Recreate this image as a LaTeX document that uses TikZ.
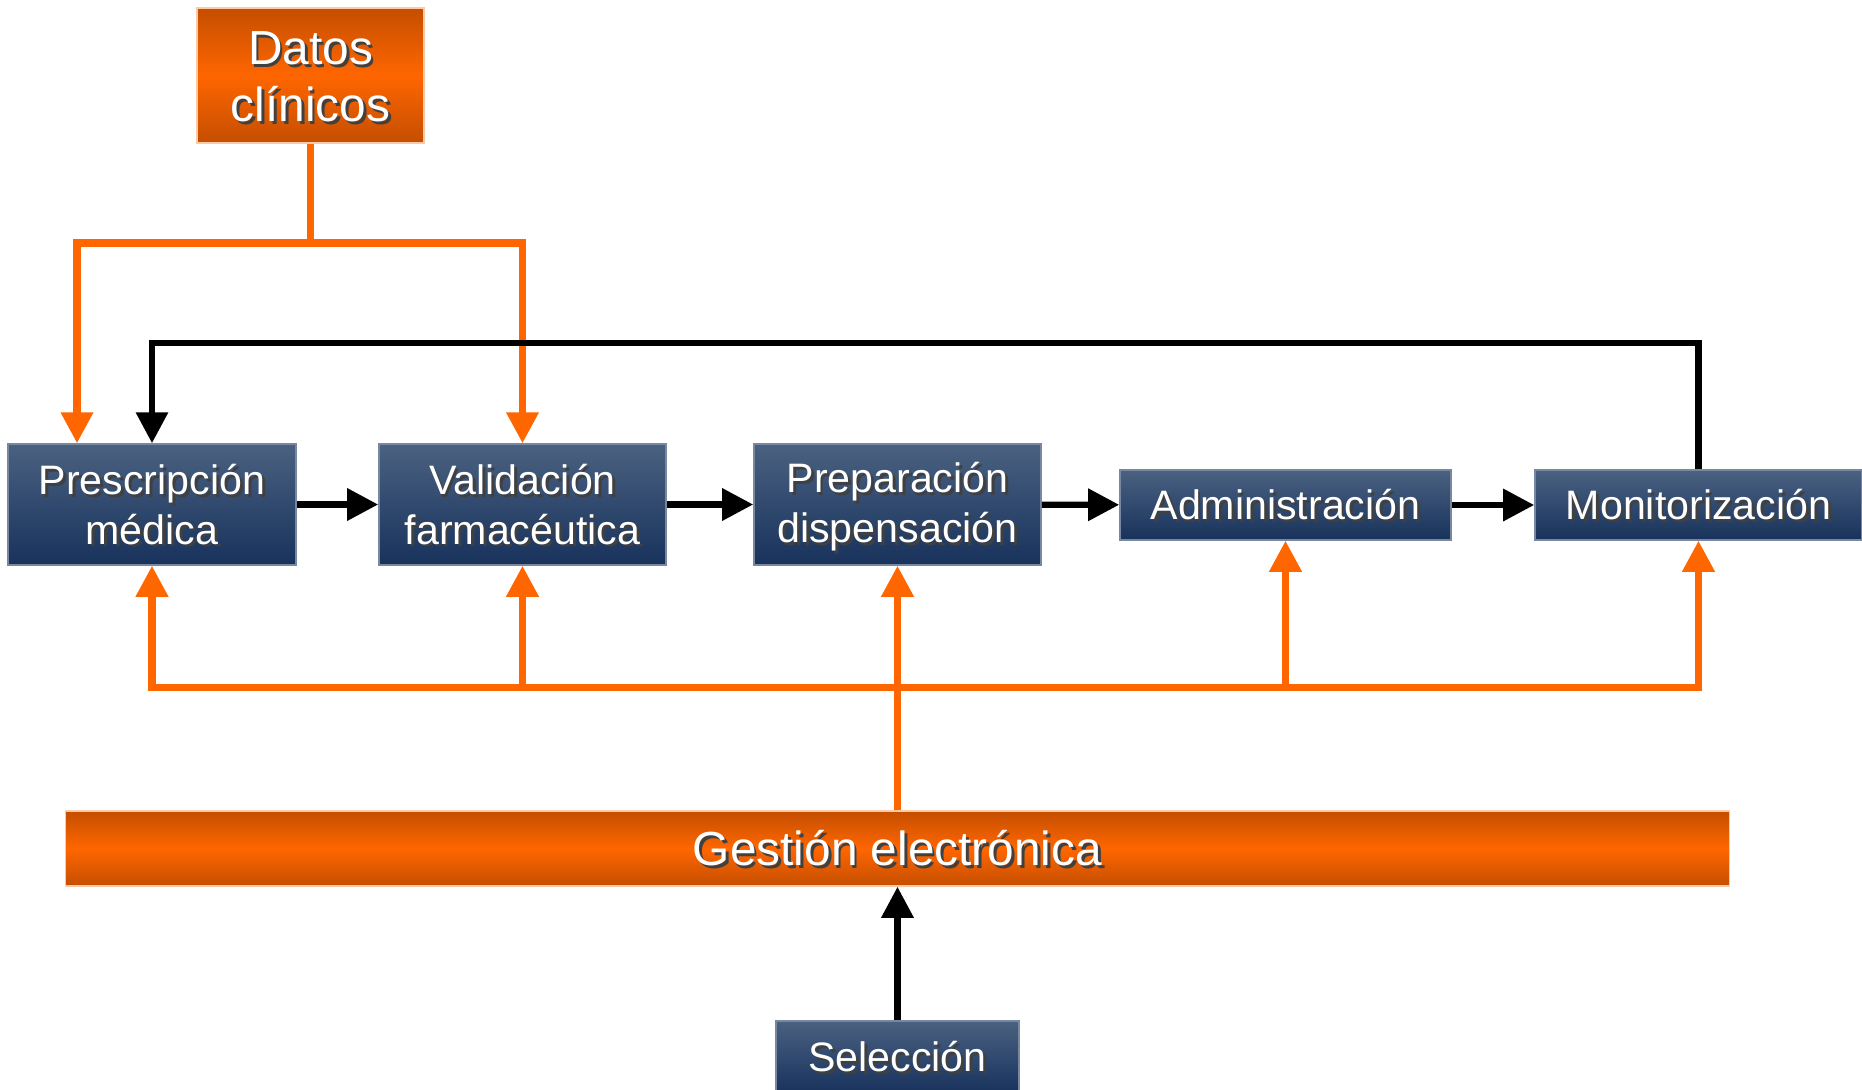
\documentclass[tikz,border=0pt]{standalone}
\usepackage{fontspec}
\setmainfont{Liberation Sans}
\usetikzlibrary{arrows.meta}
\definecolor{azulA}{RGB}{74,97,128}
\definecolor{azulB}{RGB}{24,50,92}
\definecolor{naranja}{RGB}{255,102,0}
\definecolor{naranjaO}{RGB}{196,78,0}
\newcommand{\sombra}[1]{\rule[-0.2em]{0pt}{1.12em}\makebox[0pt][l]{\kern0.8pt\raisebox{-0.8pt}{\textcolor{black!75}{#1}}}#1}
\tikzset{
  caja/.style={inner sep=0pt, text=white, align=center, top color=azulA, bottom color=azulB,
    draw=azulA!75!white, line width=0.4pt, font=\fontsize{11.7}{14.1}\selectfont},
  cajaN/.style={inner sep=0pt, text=white, align=center, top color=naranjaO,
    bottom color=naranjaO, middle color=naranja, draw=naranja!35!white, line width=0.4pt,
    font=\fontsize{13.6}{16.2}\selectfont},
  lineaN/.style={naranja, line width=2pt, line join=miter},
  flechaN/.style={lineaN, -{Triangle[length=3.1mm,width=3.1mm]}},
  flechaK/.style={black, line width=1.8pt, line join=miter, -{Triangle[length=3.1mm,width=3.1mm]}},
}

\begin{document}
\begin{tikzpicture}[x=0.01cm, y=-0.01cm]
    \useasboundingbox (0,0) rectangle (1862,1090);
    \node[cajaN, minimum width=2.27cm, minimum height=1.35cm] (datos) at (310.5,75.5) {\sombra{Datos}\\\sombra{clínicos}};
    \node[caja, minimum width=2.88cm, minimum height=1.21cm] (presc) at (152,504.5) {\sombra{Prescripción}\\\sombra{médica}};
    \node[caja, minimum width=2.87cm, minimum height=1.21cm] (valid) at (522.5,504.5) {\sombra{Validación}\\\sombra{farmacéutica}};
    \node[caja, minimum width=2.87cm, minimum height=1.21cm] (prep) at (897.5,504.5) {\sombra{Preparación}\\\sombra{dispensación}};
    \node[caja, minimum width=3.31cm, minimum height=0.70cm] (admin) at (1285.5,505) {\sombra{Administración}};
    \node[caja, minimum width=3.27cm, minimum height=0.70cm] (monit) at (1698.5,505) {\sombra{Monitorización}};
    \node[cajaN, minimum width=16.63cm, minimum height=0.75cm] (gestion) at (897.5,848.5) {\sombra{Gestión electrónica}};
    \node[caja, minimum width=2.43cm, minimum height=0.72cm] (selec) at (897.5,1057) {\sombra{Selección}};
    \coordinate (dP) at (77,243);
    \coordinate (retro) at (0,343);
    \coordinate (bus) at (0,687.5);
    % datos clinicos
    \draw[flechaN] (datos.south) |- (dP) -- (dP |- presc.north);
    \draw[flechaN] (datos.south |- dP) -| (valid.north);
    % circuito
    \draw[flechaK] (presc) -- (valid);
    \draw[flechaK] (valid) -- (prep);
    \draw[flechaK] (prep) -- (admin);
    \draw[flechaK] (admin) -- (monit);
    \draw[flechaK] (monit.north) |- (presc.north |- retro) -- (presc.north);
    % gestion electronica
    \draw[flechaN] (gestion.north) -- (prep.south);
    \draw[flechaN] (prep.south |- bus) -| (presc.south);
    \draw[flechaN] (prep.south |- bus) -| (monit.south);
    \foreach \c in {valid,admin}
        \draw[flechaN] (\c.south |- bus) -- (\c.south);
    \draw[flechaK] (selec) -- (gestion);
\end{tikzpicture}
\end{document}
